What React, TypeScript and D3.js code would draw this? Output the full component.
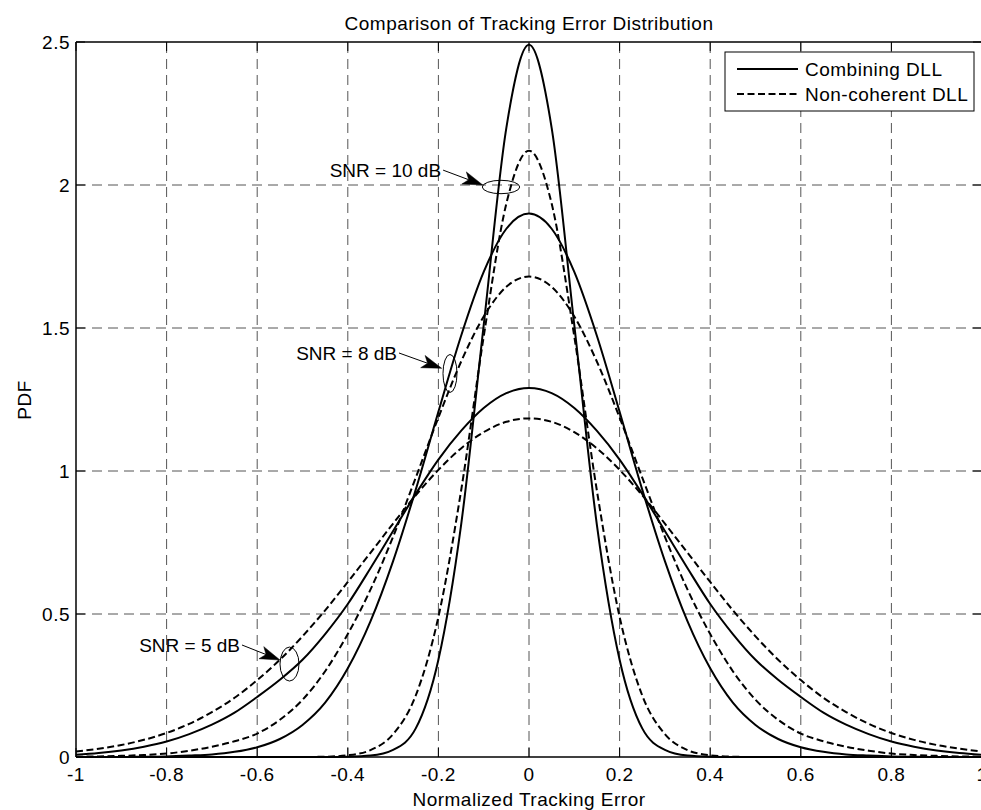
import React from "react";
import * as d3 from "d3";

// ---- data ----
const errorGrid = [
  -1, -0.95, -0.9, -0.85, -0.8, -0.75, -0.7, -0.65, -0.6, -0.55, -0.5, -0.45, -0.4, -0.35, -0.3, -0.25, -0.2, -0.15, -0.1, -0.05,
  0, 0.05, 0.1, 0.15, 0.2, 0.25, 0.3, 0.35, 0.4, 0.45, 0.5, 0.55, 0.6, 0.65, 0.7, 0.75, 0.8, 0.85, 0.9, 0.95, 1,
];

const combining10dB = [
  0, 0, 0, 0, 0, 0, 0, 0, 0, 0, 0, 0, 0.001, 0.005, 0.025, 0.1, 0.34, 0.81, 1.51, 2.2,
  2.49, 2.2, 1.51, 0.81, 0.34, 0.1, 0.025, 0.005, 0.001, 0, 0, 0, 0, 0, 0, 0, 0, 0, 0, 0, 0,
];
const noncoherent10dB = [
  0, 0, 0, 0, 0, 0, 0, 0, 0, 0, 0, 0.001, 0.006, 0.024, 0.08, 0.215, 0.49, 0.93, 1.47, 1.935,
  2.12, 1.935, 1.47, 0.93, 0.49, 0.215, 0.08, 0.024, 0.006, 0.001, 0, 0, 0, 0, 0, 0, 0, 0, 0, 0, 0,
];
const combining8dB = [
  0, 0, 0, 0.001, 0.002, 0.005, 0.009, 0.018, 0.034, 0.063, 0.112, 0.19, 0.31, 0.474, 0.685, 0.935, 1.207, 1.472, 1.696, 1.847,
  1.9, 1.847, 1.696, 1.472, 1.207, 0.935, 0.685, 0.474, 0.31, 0.19, 0.112, 0.063, 0.034, 0.018, 0.009, 0.005, 0.002, 0.001, 0, 0, 0,
];
const noncoherent8dB = [
  0.001, 0.002, 0.004, 0.007, 0.012, 0.022, 0.036, 0.055, 0.082, 0.13, 0.2, 0.3, 0.43, 0.585, 0.77, 0.977, 1.187, 1.382, 1.54, 1.644,
  1.68, 1.644, 1.54, 1.382, 1.187, 0.977, 0.77, 0.585, 0.43, 0.3, 0.2, 0.13, 0.082, 0.055, 0.036, 0.022, 0.012, 0.007, 0.004, 0.002, 0.001,
];
const combining5dB = [
  0.008, 0.014, 0.023, 0.036, 0.054, 0.08, 0.113, 0.155, 0.21, 0.27, 0.34, 0.43, 0.535, 0.66, 0.79, 0.92, 1.04, 1.14, 1.22, 1.272,
  1.29, 1.272, 1.22, 1.14, 1.04, 0.92, 0.79, 0.66, 0.535, 0.43, 0.34, 0.27, 0.21, 0.155, 0.113, 0.08, 0.054, 0.036, 0.023, 0.014, 0.008,
];
const noncoherent5dB = [
  0.019, 0.029, 0.042, 0.06, 0.084, 0.116, 0.157, 0.207, 0.269, 0.34, 0.422, 0.513, 0.612, 0.714, 0.816, 0.915, 1.004, 1.079, 1.136, 1.172,
  1.184, 1.172, 1.136, 1.079, 1.004, 0.915, 0.816, 0.714, 0.612, 0.513, 0.422, 0.34, 0.269, 0.207, 0.157, 0.116, 0.084, 0.06, 0.042, 0.029, 0.019,
];

const xTickValues = [-1, -0.8, -0.6, -0.4, -0.2, 0, 0.2, 0.4, 0.6, 0.8, 1];
const xTickLabels = ["-1", "-0.8", "-0.6", "-0.4", "-0.2", "0", "0.2", "0.4", "0.6", "0.8", "1"];
const yTickValues = [0, 0.5, 1, 1.5, 2, 2.5];
const yTickLabels = ["0", "0.5", "1", "1.5", "2", "2.5"];

const seriesNames = ["Combining DLL", "Non-coherent DLL"];

const titleText = "Comparison of Tracking Error Distribution";
const xLabelText = "Normalized Tracking Error";
const yLabelText = "PDF";

// annotations: label end, arrow tip, ellipse center (data coords)
const annotationLabels = ["SNR = 10 dB", "SNR = 8 dB", "SNR = 5 dB"];
const annotationTextAt = [[-0.194, 2.052], [-0.2914, 1.4126], [-0.638, 0.3916]];
const annotationTipAt = [[-0.102, 2.0], [-0.1927, 1.359], [-0.5497, 0.339]];
const annotationEllipseAt = [[-0.0618, 1.993], [-0.1744, 1.341], [-0.5287, 0.325]];
const annotationEllipseR = [[18.7, 6.7], [7, 19], [9.5, 17]];

// ---- layout ----
const W = 981;
const H = 810;
const left = 76;
const right = 982;
const top = 42;
const bottom = 757;
const FONT = "'Liberation Sans', Arial, Helvetica, sans-serif";

export default function App() {
  const x = d3.scaleLinear().domain([-1, 1]).range([left, right]);
  const y = d3.scaleLinear().domain([0, 2.5]).range([bottom, top]);

  const line = d3
    .line<number>()
    .x((_, i) => x(errorGrid[i]))
    .y((d) => y(d))
    .curve(d3.curveMonotoneX);

  const series = [
    { v: combining10dB, dashed: false },
    { v: noncoherent10dB, dashed: true },
    { v: combining8dB, dashed: false },
    { v: noncoherent8dB, dashed: true },
    { v: combining5dB, dashed: false },
    { v: noncoherent5dB, dashed: true },
  ];

  const gridColor = "#555";
  const gridDash = "10,6";
  const curveDash = "7,3.5";
  const tickLen = 9;

  return (
    <svg
      width={W}
      height={H}
      style={{ position: "absolute", left: 0, top: 0, background: "#fff" }}
      fontFamily={FONT}
    >
      <rect x={0} y={0} width={W} height={H} fill="#fff" />
      {/* grid */}
      {xTickValues.slice(1, -1).map((t) => (
        <line key={"gx" + t} x1={x(t)} x2={x(t)} y1={bottom} y2={top} stroke={gridColor} strokeWidth={1} strokeDasharray={gridDash} />
      ))}
      {yTickValues.slice(1, -1).map((t) => (
        <line key={"gy" + t} x1={left} x2={right} y1={y(t)} y2={y(t)} stroke={gridColor} strokeWidth={1} strokeDasharray={gridDash} />
      ))}

      {/* curves */}
      {series.map((s, i) => (
        <path
          key={"s" + i}
          d={line(s.v) || ""}
          fill="none"
          stroke="#000"
          strokeWidth={2}
          strokeDasharray={s.dashed ? curveDash : undefined}
          strokeLinejoin="round"
        />
      ))}

      {/* axes box */}
      <line x1={left} x2={right} y1={top} y2={top} stroke="#000" strokeWidth={1.5} />
      <line x1={left} x2={right} y1={bottom} y2={bottom} stroke="#000" strokeWidth={1.5} />
      <line x1={left} x2={left} y1={top} y2={bottom} stroke="#000" strokeWidth={1.5} />
      <line x1={right} x2={right} y1={top} y2={bottom} stroke="#000" strokeWidth={1.5} />
      {xTickValues.map((t) => (
        <g key={"tx" + t}>
          <line x1={x(t)} x2={x(t)} y1={bottom} y2={bottom - tickLen} stroke="#000" strokeWidth={1} />
          <line x1={x(t)} x2={x(t)} y1={top} y2={top + tickLen} stroke="#000" strokeWidth={1} />
        </g>
      ))}
      {yTickValues.map((t) => (
        <g key={"ty" + t}>
          <line x1={left} x2={left + tickLen} y1={y(t)} y2={y(t)} stroke="#000" strokeWidth={1} />
          <line x1={right} x2={right - tickLen} y1={y(t)} y2={y(t)} stroke="#000" strokeWidth={1} />
        </g>
      ))}

      {/* tick labels */}
      {xTickValues.map((t, i) => (
        <text key={"lx" + t} x={x(t)} y={781} textAnchor="middle" fontSize={19} letterSpacing={0.5}>
          {xTickLabels[i]}
        </text>
      ))}
      {yTickValues.map((t, i) => (
        <text key={"ly" + t} x={70} y={y(t) + 7} textAnchor="end" fontSize={19} letterSpacing={0.5}>
          {yTickLabels[i]}
        </text>
      ))}

      {/* titles */}
      <text x={(left + right) / 2} y={30} textAnchor="middle" fontSize={19} letterSpacing={0.5}>
        {titleText}
      </text>
      <text x={(left + right) / 2} y={806} textAnchor="middle" fontSize={19} letterSpacing={0.5}>
        {xLabelText}
      </text>
      <text
        transform={`translate(31,400) rotate(-90)`}
        textAnchor="middle"
        fontSize={19}
        letterSpacing={0.5}
      >
        {yLabelText}
      </text>

      {/* annotations */}
      {annotationLabels.map((lab, i) => {
        const tx = x(annotationTextAt[i][0]);
        const ty = y(annotationTextAt[i][1]);
        const px = x(annotationTipAt[i][0]);
        const py = y(annotationTipAt[i][1]);
        const sx = tx + 2;
        const sy = ty;
        const dx = px - sx;
        const dy = py - sy;
        const len = Math.hypot(dx, dy);
        const ux = dx / len;
        const uy = dy / len;
        const nx = -uy;
        const ny = ux;
        const hl = 20;
        const hw = 6.5;
        const notch = 15;
        const c1x = px - hl * ux + hw * nx;
        const c1y = py - hl * uy + hw * ny;
        const c2x = px - hl * ux - hw * nx;
        const c2y = py - hl * uy - hw * ny;
        const bx = px - notch * ux;
        const by = py - notch * uy;
        const ex = x(annotationEllipseAt[i][0]);
        const ey = y(annotationEllipseAt[i][1]);
        return (
          <g key={"a" + i}>
            <text x={tx} y={ty + 7} textAnchor="end" fontSize={19}>
              {lab}
            </text>
            <line x1={sx} y1={sy} x2={bx} y2={by} stroke="#000" strokeWidth={1} />
            <path d={`M${px},${py}L${c1x},${c1y}L${bx},${by}L${c2x},${c2y}Z`} fill="#000" stroke="#000" strokeWidth={0.5} />
            <ellipse cx={ex} cy={ey} rx={annotationEllipseR[i][0]} ry={annotationEllipseR[i][1]} fill="none" stroke="#000" strokeWidth={1} />
          </g>
        );
      })}

      {/* legend */}
      <g>
        <rect x={725} y={52} width={249} height={59} fill="#fff" stroke="#000" strokeWidth={1} />
        {seriesNames.map((name, i) => {
          const ly = 69 + i * 25;
          return (
            <g key={"leg" + i}>
              <line x1={737} x2={798} y1={ly} y2={ly} stroke="#000" strokeWidth={2} strokeDasharray={i === 1 ? curveDash : undefined} />
              <text x={805} y={ly + 7} fontSize={19} letterSpacing={0.5}>
                {name}
              </text>
            </g>
          );
        })}
      </g>
    </svg>
  );
}
